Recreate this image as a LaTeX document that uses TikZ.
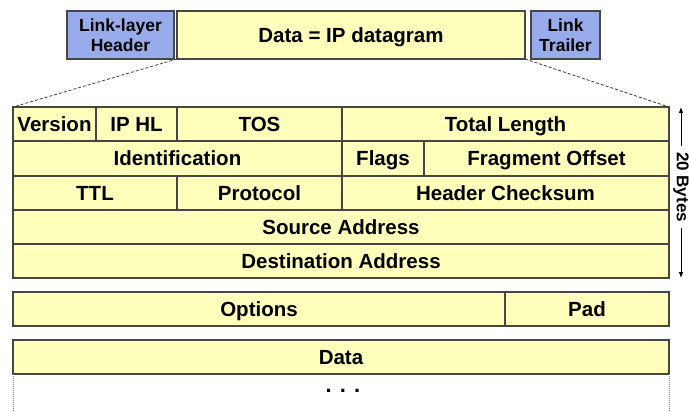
\documentclass[tikz,border=0pt]{standalone}
\usepackage{fontspec}
\setmainfont{Liberation Sans}
\usetikzlibrary{arrows.meta}
\definecolor{cellyellow}{RGB}{255,255,188}
\definecolor{linkblue}{RGB}{152,172,236}
\definecolor{edgegrey}{RGB}{70,70,70}
\begin{document}
\begin{tikzpicture}[x=1pt,y=-1pt,
  cell/.style={draw=edgegrey,line width=1.1pt,fill=cellyellow,rectangle,inner sep=0pt,outer sep=0pt,
    font=\fontsize{20.5}{22}\selectfont\bfseries,text=black,text height=15pt,text depth=0.5pt},
  blue/.style={draw=edgegrey,line width=1.1pt,fill=linkblue,rectangle,inner sep=0pt,outer sep=0pt,
    align=center,font=\fontsize{17.5}{20}\selectfont\bfseries},
  zoomline/.style={draw=black!75,line width=0.8pt,dash pattern=on 3pt off 2pt},
  sideline/.style={draw=black!45,line width=0.8pt,dash pattern=on 1pt off 1pt},
  dimarrow/.style={draw=black,line width=0.8pt,-{Latex[length=6pt,width=4.5pt]}}
]
\useasboundingbox[fill=white] (0,0) rectangle (689,412);
% link-layer frame
\node[blue,minimum width=107,minimum height=48] (lhdr) at (120.5,35) {Link-layer\\Header};
\node[cell,minimum width=348,minimum height=48] (frame) at (351,35) {Data = IP datagram};
\node[blue,minimum width=69,minimum height=48] (ltrl) at (565.5,35) {Link\\Trailer};
% header rows
\node[cell,minimum width=83,minimum height=34] (ver) at (54.5,124) {Version};
\node[cell,minimum width=81,minimum height=34] (iphl) at (136.5,124) {IP HL};
\node[cell,minimum width=165,minimum height=34] (tos) at (259.5,124) {TOS};
\node[cell,minimum width=327,minimum height=34] (tlen) at (505.5,124) {Total Length};
\node[cell,minimum width=329,minimum height=35] (ident) at (177.5,158.5) {Identification};
\node[cell,minimum width=82,minimum height=35] (flags) at (383,158.5) {Flags};
\node[cell,minimum width=245,minimum height=35] (frag) at (546.5,158.5) {Fragment Offset};
\node[cell,minimum width=164,minimum height=34] (ttl) at (95,193) {TTL};
\node[cell,minimum width=165,minimum height=34] (proto) at (259.5,193) {Protocol};
\node[cell,minimum width=327,minimum height=34] (chk) at (505.5,193) {Header Checksum};
\node[cell,minimum width=656,minimum height=34] (src) at (341,227) {Source Address};
\node[cell,minimum width=656,minimum height=34] (dst) at (341,261) {Destination Address};
% options
\node[cell,minimum width=492,minimum height=34] (opt) at (259,309) {Options};
\node[cell,minimum width=164,minimum height=34] (pad) at (587,309) {Pad};
% data
\node[cell,minimum width=656,minimum height=34] (data) at (341,357) {Data};
\node[font=\fontsize{22}{22}\selectfont\bfseries] (dots) at (343,391) {. . .};
\coordinate (dl) at (13,412);
\coordinate (dr) at (669,412);
\draw[sideline] (data.south west) -- (dl);
\draw[sideline] (data.south east) -- (dr);
% zoom lines
\draw[zoomline] (frame.south west) -- (ver.north west);
\draw[zoomline] (frame.south east) -- (tlen.north east);
% 20 bytes
\node[rotate=-90,inner sep=0pt,font=\fontsize{17}{20}\selectfont\bfseries] (bytes) at (681,187) {20 Bytes};
\coordinate (atop) at (681,107);
\coordinate (abot) at (681,278);
\draw[dimarrow] ([yshift=6pt]bytes.west) -- (atop);
\draw[dimarrow] ([yshift=-6pt]bytes.east) -- (abot);
\end{tikzpicture}
\end{document}
